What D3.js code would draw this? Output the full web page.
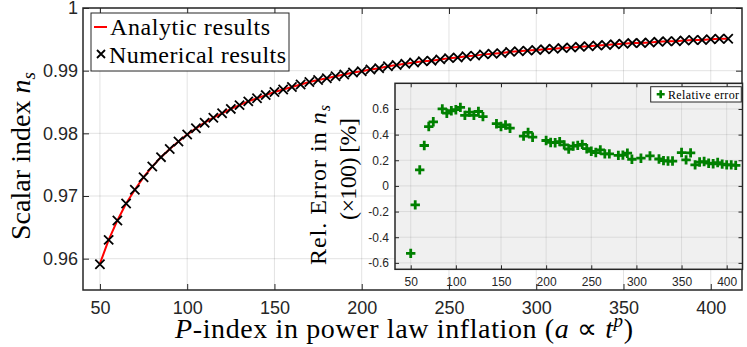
<!DOCTYPE html>
<html>
<head>
<meta charset="utf-8">
<script src="https://cdn.jsdelivr.net/npm/d3@7"></script>
<style>
body { margin: 0; background: #fff; }
svg { display: block; }
</style>
</head>
<body>
<svg width="747" height="347"></svg>
<script>
// ---- data ----
var pValues = [50, 55, 60, 65, 70, 75, 80, 85, 90, 95, 100, 105, 110, 115, 120, 125, 130, 135, 140, 145,
  150, 155, 160, 165, 170, 175, 180, 185, 190, 195, 200, 205, 210, 215, 220, 225, 230, 235, 240, 245,
  250, 255, 260, 265, 270, 275, 280, 285, 290, 295, 300, 305, 310, 315, 320, 325, 330, 335, 340, 345,
  350, 355, 360, 365, 370, 375, 380, 385, 390, 395, 400, 405, 410];

var nsAnalytic = [0.9592, 0.9630, 0.9661, 0.9688, 0.9710, 0.9730, 0.9747, 0.9762, 0.9775, 0.9787,
  0.9798, 0.9808, 0.9817, 0.9825, 0.9832, 0.9839, 0.9845, 0.9851, 0.9856, 0.9861,
  0.9866, 0.9870, 0.9874, 0.9878, 0.9882, 0.9885, 0.9888, 0.9891, 0.9894, 0.9897,
  0.9899, 0.9902, 0.9904, 0.9907, 0.9909, 0.9911, 0.9913, 0.9915, 0.9916, 0.9918,
  0.9920, 0.9921, 0.9923, 0.9924, 0.9926, 0.9927, 0.9928, 0.9930, 0.9931, 0.9932,
  0.9933, 0.9934, 0.9935, 0.9936, 0.9937, 0.9938, 0.9939, 0.9940, 0.9941, 0.9942,
  0.9943, 0.9944, 0.9944, 0.9945, 0.9946, 0.9947, 0.9947, 0.9948, 0.9949, 0.9949,
  0.9950, 0.9951, 0.9951];

var nsNumerical = [0.9591, 0.9630, 0.9661, 0.9688, 0.9710, 0.9730, 0.9747, 0.9762, 0.9775, 0.9787,
  0.9798, 0.9808, 0.9817, 0.9825, 0.9832, 0.9839, 0.9845, 0.9851, 0.9856, 0.9861,
  0.9866, 0.9870, 0.9874, 0.9878, 0.9882, 0.9885, 0.9888, 0.9891, 0.9894, 0.9897,
  0.9899, 0.9902, 0.9904, 0.9907, 0.9909, 0.9911, 0.9913, 0.9915, 0.9916, 0.9918,
  0.9920, 0.9921, 0.9923, 0.9924, 0.9926, 0.9927, 0.9928, 0.9930, 0.9931, 0.9932,
  0.9933, 0.9934, 0.9935, 0.9936, 0.9937, 0.9938, 0.9939, 0.9940, 0.9941, 0.9942,
  0.9943, 0.9944, 0.9944, 0.9945, 0.9946, 0.9947, 0.9947, 0.9948, 0.9949, 0.9949,
  0.9950, 0.9951, 0.9951];

// relative error (x100, in %), only the runs shown in the inset
var errP = [50, 55, 60, 65, 70, 75, 85, 90, 95, 100, 105, 110, 115, 120, 125, 130,
  145, 150, 155, 160, 175, 180, 185, 200, 205, 210, 215, 220, 225, 230, 235, 240, 245,
  250, 255, 260, 265, 270, 280, 285, 290, 295, 305, 315, 325, 330, 335, 340,
  350, 355, 360, 365, 370, 375, 380, 385, 390, 395, 400, 405, 410];
var errValues = [-0.526, -0.148, 0.125, 0.315, 0.463, 0.50, 0.60, 0.567, 0.586, 0.594, 0.612, 0.55, 0.575, 0.55, 0.58, 0.54,
  0.485, 0.463, 0.475, 0.45, 0.388, 0.417, 0.38, 0.354, 0.339, 0.337, 0.345, 0.32, 0.288, 0.31, 0.316, 0.324, 0.29,
  0.27, 0.26, 0.281, 0.25, 0.25, 0.238, 0.24, 0.255, 0.208, 0.216, 0.234, 0.21, 0.197, 0.194, 0.194,
  0.26, 0.203, 0.258, 0.164, 0.186, 0.19, 0.177, 0.173, 0.182, 0.17, 0.164, 0.164, 0.16];

var xTicks = [50, 100, 150, 200, 250, 300, 350, 400];
var yTicks = [0.96, 0.97, 0.98, 0.99, 1];
var yTickLabels = ["0.96", "0.97", "0.98", "0.99", "1"];
var insetYTicks = [-0.6, -0.4, -0.2, 0, 0.2, 0.4, 0.6];
var insetYTickLabels = ["-0.6", "-0.4", "-0.2", "0", "0.2", "0.4", "0.6"];

// ---- layout ----
var svg = d3.select("svg");
var axisColor = "#262626";
var sans = "'Liberation Sans', Arial, Helvetica, sans-serif";
var serif = "'Liberation Serif', 'Times New Roman', serif";

var main = {left: 83, top: 8, right: 742, bottom: 290};
var x = d3.scaleLinear().domain([40.3, 417.9]).range([main.left, main.right]);
var y = d3.scaleLinear().domain([0.955, 1]).range([main.bottom, main.top]);

function styleAxis(g, fs) {
  g.select(".domain").remove();
  g.selectAll(".tick line").attr("stroke", axisColor).attr("stroke-width", 1);
  g.selectAll("text").attr("fill", axisColor)
    .style("font-family", sans).style("font-size", fs + "px");
}

// grid
var grid = svg.append("g").attr("stroke", axisColor).attr("stroke-opacity", 0.13);
grid.selectAll(".gx").data(xTicks).enter().append("line")
  .attr("x1", function(d) { return x(d); }).attr("x2", function(d) { return x(d); })
  .attr("y1", main.top).attr("y2", main.bottom);
grid.selectAll(".gy").data(yTicks).enter().append("line")
  .attr("y1", function(d) { return y(d); }).attr("y2", function(d) { return y(d); })
  .attr("x1", main.left).attr("x2", main.right);

// analytic line
var line = d3.line()
  .x(function(d, i) { return x(pValues[i]); })
  .y(function(d) { return y(d); });
svg.append("path").datum(nsAnalytic)
  .attr("d", line).attr("fill", "none")
  .attr("stroke", "#ff0000").attr("stroke-width", 2);

// numerical markers
var crossPath = "M-4.6,-4.6L4.6,4.6M-4.6,4.6L4.6,-4.6";
svg.append("g").selectAll("path").data(nsNumerical).enter().append("path")
  .attr("transform", function(d, i) { return "translate(" + x(pValues[i]) + "," + y(d) + ")"; })
  .attr("d", crossPath).attr("fill", "none")
  .attr("stroke", "#000").attr("stroke-width", 1.8);

// axes
svg.append("g").attr("transform", "translate(0," + main.bottom + ")")
  .call(d3.axisBottom(x).tickValues(xTicks).tickSizeInner(-6).tickSizeOuter(0).tickPadding(11))
  .call(styleAxis, 18);
svg.append("g").attr("transform", "translate(0," + main.top + ")")
  .call(d3.axisTop(x).tickValues(xTicks).tickSizeInner(-6).tickSizeOuter(0).tickFormat(""))
  .call(styleAxis, 18);
svg.append("g").attr("transform", "translate(" + main.left + ",0)")
  .call(d3.axisLeft(y).tickValues(yTicks).tickFormat(function(d, i) { return yTickLabels[i]; })
    .tickSizeInner(-6).tickSizeOuter(0).tickPadding(5))
  .call(styleAxis, 18);
svg.append("g").attr("transform", "translate(" + main.right + ",0)")
  .call(d3.axisRight(y).tickValues(yTicks).tickSizeInner(-6).tickSizeOuter(0).tickFormat(""))
  .call(styleAxis, 18);

svg.append("rect")
  .attr("x", main.left).attr("y", main.top)
  .attr("width", main.right - main.left).attr("height", main.bottom - main.top)
  .attr("fill", "none").attr("stroke", axisColor).attr("stroke-width", 1.5);

// axis labels
var xl = svg.append("text")
  .attr("x", 404).attr("y", 338)
  .attr("text-anchor", "middle")
  .attr("textLength", 458).attr("lengthAdjust", "spacing")
  .style("font-family", serif).style("font-size", "28px").attr("fill", "#000");
xl.append("tspan").style("font-style", "italic").text("P");
xl.append("tspan").text("-index in power law inflation (");
xl.append("tspan").style("font-style", "italic").text("a");
xl.append("tspan").text(" \u221D ");
xl.append("tspan").style("font-style", "italic").text("t");
xl.append("tspan").style("font-style", "italic").style("font-size", "19px").attr("dy", -11).text("p");
xl.append("tspan").attr("dy", 11).text(")");

var yl = svg.append("text")
  .attr("transform", "translate(30,156) rotate(-90)")
  .attr("text-anchor", "middle")
  .attr("textLength", 168).attr("lengthAdjust", "spacing")
  .style("font-family", serif).style("font-size", "28px").attr("fill", "#000");
yl.append("tspan").text("Scalar index ");
yl.append("tspan").style("font-style", "italic").text("n");
yl.append("tspan").style("font-style", "italic").style("font-size", "19px").attr("dy", 5).text("s");

// main legend
var leg = svg.append("g");
leg.append("rect").attr("x", 91).attr("y", 13).attr("width", 198).attr("height", 58)
  .attr("fill", "#fff").attr("stroke", axisColor).attr("stroke-width", 1);
leg.append("line").attr("x1", 94).attr("x2", 107).attr("y1", 27).attr("y2", 27)
  .attr("stroke", "#ff0000").attr("stroke-width", 2);
leg.append("text").attr("x", 110).attr("y", 34.5)
  .attr("textLength", 160).attr("lengthAdjust", "spacing")
  .style("font-family", serif).style("font-size", "24px").text("Analytic results");
leg.append("path").attr("transform", "translate(101,54)")
  .attr("d", "M-4,-4L4,4M-4,4L4,-4").attr("stroke", "#000").attr("stroke-width", 1.8);
leg.append("text").attr("x", 109).attr("y", 62.5)
  .attr("textLength", 177).attr("lengthAdjust", "spacing")
  .style("font-family", serif).style("font-size", "24px").text("Numerical results");

// ---- inset ----
var ins = {left: 395, top: 83.3, right: 742.5, bottom: 269.3};
var xi = d3.scaleLinear().domain([32.6, 417.5]).range([ins.left, ins.right]);
var yi = d3.scaleLinear().domain([-0.65, 0.8]).range([ins.bottom, ins.top]);

svg.append("rect")
  .attr("x", ins.left).attr("y", ins.top)
  .attr("width", ins.right - ins.left).attr("height", ins.bottom - ins.top)
  .attr("fill", "#f0f0f0");

var igrid = svg.append("g").attr("stroke", axisColor).attr("stroke-opacity", 0.1);
igrid.selectAll(".gx").data(xTicks).enter().append("line")
  .attr("x1", function(d) { return xi(d); }).attr("x2", function(d) { return xi(d); })
  .attr("y1", ins.top).attr("y2", ins.bottom);
igrid.selectAll(".gy").data(insetYTicks).enter().append("line")
  .attr("y1", function(d) { return yi(d); }).attr("y2", function(d) { return yi(d); })
  .attr("x1", ins.left).attr("x2", ins.right);

var plusPath = "M-4.7,0H4.7M0,-4.7V4.7";
svg.append("g").selectAll("path").data(errValues).enter().append("path")
  .attr("transform", function(d, i) { return "translate(" + xi(errP[i]) + "," + yi(d) + ")"; })
  .attr("d", plusPath).attr("fill", "none")
  .attr("stroke", "#008000").attr("stroke-width", 2.8);

svg.append("g").attr("transform", "translate(0," + ins.bottom + ")")
  .call(d3.axisBottom(xi).tickValues(xTicks).tickSizeInner(-4).tickSizeOuter(0).tickPadding(8))
  .call(styleAxis, 12);
svg.append("g").attr("transform", "translate(0," + ins.top + ")")
  .call(d3.axisTop(xi).tickValues(xTicks).tickSizeInner(-4).tickSizeOuter(0).tickFormat(""))
  .call(styleAxis, 12);
svg.append("g").attr("transform", "translate(" + ins.left + ",0)")
  .call(d3.axisLeft(yi).tickValues(insetYTicks).tickFormat(function(d, i) { return insetYTickLabels[i]; })
    .tickSizeInner(-4).tickSizeOuter(0).tickPadding(6))
  .call(styleAxis, 12);
svg.append("g").attr("transform", "translate(" + ins.right + ",0)")
  .call(d3.axisRight(yi).tickValues(insetYTicks).tickSizeInner(-4).tickSizeOuter(0).tickFormat(""))
  .call(styleAxis, 12);

svg.append("rect")
  .attr("x", ins.left).attr("y", ins.top)
  .attr("width", ins.right - ins.left).attr("height", ins.bottom - ins.top)
  .attr("fill", "none").attr("stroke", axisColor).attr("stroke-width", 1.5);

// inset y label (two lines)
var il1 = svg.append("text")
  .attr("transform", "translate(326,185) rotate(-90)")
  .attr("text-anchor", "middle")
  .attr("textLength", 160).attr("lengthAdjust", "spacing")
  .style("font-family", serif).style("font-size", "24px");
il1.append("tspan").text("Rel. Error in ");
il1.append("tspan").style("font-style", "italic").text("n");
il1.append("tspan").style("font-style", "italic").style("font-size", "16px").attr("dy", 4).text("s");

svg.append("text")
  .attr("transform", "translate(356,169) rotate(-90)")
  .attr("text-anchor", "middle")
  .attr("textLength", 102).attr("lengthAdjust", "spacing")
  .style("font-family", serif).style("font-size", "24px")
  .text("(\u00D7100) [%]");

// inset legend
var ileg = svg.append("g");
ileg.append("rect").attr("x", 650.7).attr("y", 86.7).attr("width", 90.6).attr("height", 15.3)
  .attr("fill", "#fff").attr("stroke", axisColor).attr("stroke-width", 1);
ileg.append("path").attr("transform", "translate(660.7,94.3)")
  .attr("d", "M-4,0H4M0,-4V4").attr("stroke", "#008000").attr("stroke-width", 2.6);
ileg.append("text").attr("x", 668).attr("y", 98.5)
  .attr("textLength", 71).attr("lengthAdjust", "spacing")
  .style("font-family", serif).style("font-size", "12px").text("Relative error");
</script>
</body>
</html>
